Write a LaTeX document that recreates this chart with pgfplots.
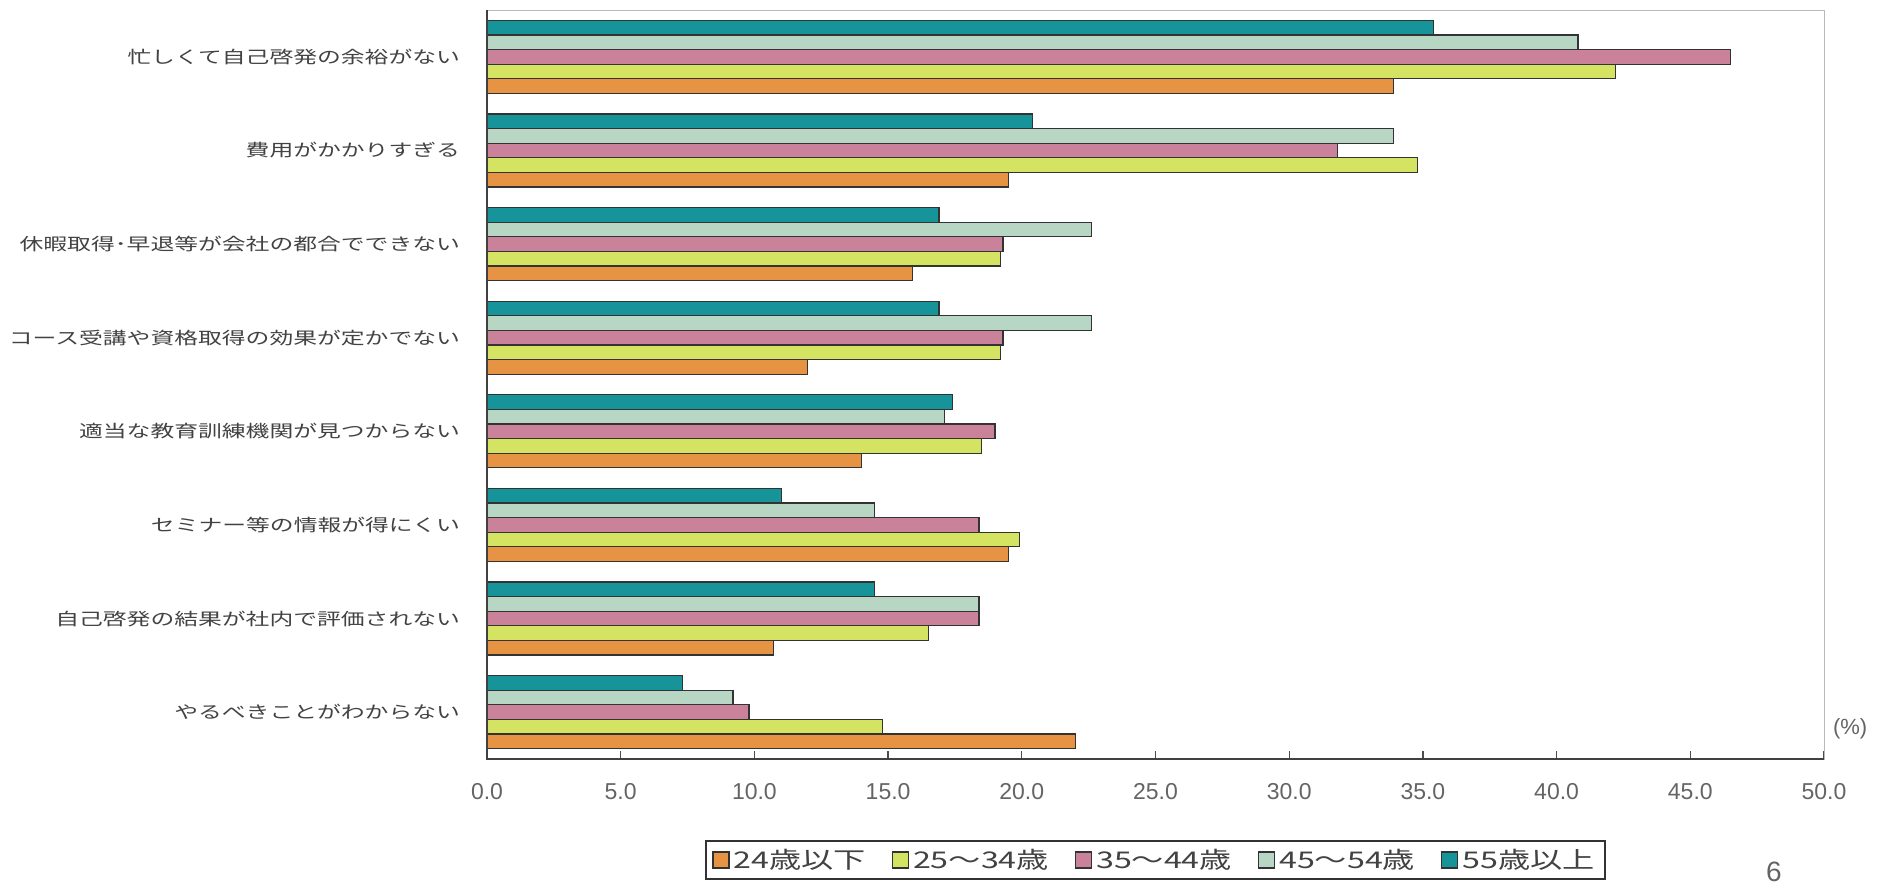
\documentclass[border=0pt]{standalone}
\usepackage{fontspec}
\setmainfont{Liberation Sans}
\newfontfamily\jp[FakeStretch=1.4]{Noto Sans CJK JP}
\usepackage{pgfplots}
\pgfplotsset{compat=1.18}
\definecolor{cA}{RGB}{230,148,68}
\definecolor{cB}{RGB}{212,228,98}
\definecolor{cC}{RGB}{202,130,154}
\definecolor{cD}{RGB}{184,214,196}
\definecolor{cE}{RGB}{22,148,154}
\definecolor{txt}{RGB}{66,66,66}
\definecolor{tickc}{RGB}{100,100,100}
\pgfplotsset{myleg/.style={legend image code/.code={\draw[##1,draw=black!80,line width=0.6pt] (0pt,-4pt) rectangle (8pt,4pt);}}}
\begin{document}
\begin{tikzpicture}
\useasboundingbox (-243.5pt,-66pt) rectangle (695pt,379.5pt);
\begin{axis}[
  at={(0,0)}, anchor=south west,
  scale only axis, width=668.5pt, height=374.5pt,
  clip=false,
  xbar=0pt, bar width=7.3pt,
  xmin=0, xmax=50, ymin=-0.5, ymax=7.5,
  xtick={0,5,...,50},
  xticklabels={0.0,5.0,10.0,15.0,20.0,25.0,30.0,35.0,40.0,45.0,50.0},
  xticklabel style={font=\fontsize{11.5pt}{13pt}\selectfont, text=tickc, anchor=center, yshift=-16.5pt},
  ytick={0,...,7},
  yticklabels={やるべきことがわからない,自己啓発の結果が社内で評価されない,セミナー等の情報が得にくい,適当な教育訓練機関が見つからない,コース受講や資格取得の効果が定かでない,休暇取得･早退等が会社の都合でできない,費用がかかりすぎる,忙しくて自己啓発の余裕がない},
  yticklabel style={font=\jp\fontsize{8.5pt}{10pt}\selectfont, text=txt, xshift=-6pt},
  ytick style={draw=none},
  xtick pos=bottom,
  xtick align=inside,
  major tick length=4pt,
  xtick style={draw=black!70, line width=0.6pt},
  axis line style={draw=gray!55, line width=0.4pt},
  legend columns=5,
  legend style={at={(0.5,0)}, anchor=north, yshift=-40.5pt, draw=black!80, line width=0.9pt,
    font=\jp\fontsize{11.5pt}{13pt}\selectfont, text=txt, inner ysep=2pt, inner xsep=3pt,
    /tikz/every even column/.append style={column sep=11pt}},
  every axis plot/.append style={draw=black!80, line width=0.6pt},
]
\addplot[fill=cA, myleg] coordinates {(22.0,0) (10.7,1) (19.5,2) (14.0,3) (12.0,4) (15.9,5) (19.5,6) (33.9,7)};
\addplot[fill=cB, myleg] coordinates {(14.8,0) (16.5,1) (19.9,2) (18.5,3) (19.2,4) (19.2,5) (34.8,6) (42.2,7)};
\addplot[fill=cC, myleg] coordinates {(9.8,0) (18.4,1) (18.4,2) (19.0,3) (19.3,4) (19.3,5) (31.8,6) (46.5,7)};
\addplot[fill=cD, myleg] coordinates {(9.2,0) (18.4,1) (14.5,2) (17.1,3) (22.6,4) (22.6,5) (33.9,6) (40.8,7)};
\addplot[fill=cE, myleg] coordinates {(7.3,0) (14.5,1) (11.0,2) (17.4,3) (16.9,4) (16.9,5) (20.4,6) (35.4,7)};
\legend{24歳以下,25～34歳,35～44歳,45～54歳,55歳以上}
\draw[black!75, line width=1.1pt] (rel axis cs:0,1) -- (rel axis cs:0,0) -- (rel axis cs:1,0);
\node[anchor=west, font=\fontsize{11pt}{13pt}\selectfont, text=tickc] at (rel axis cs:1,0) [yshift=15pt, xshift=1pt] {(\%)};
\end{axis}
\node[font=\fontsize{14pt}{16pt}\selectfont, text=tickc] at (643.5pt,-56.5pt) {6};
\end{tikzpicture}
\end{document}
